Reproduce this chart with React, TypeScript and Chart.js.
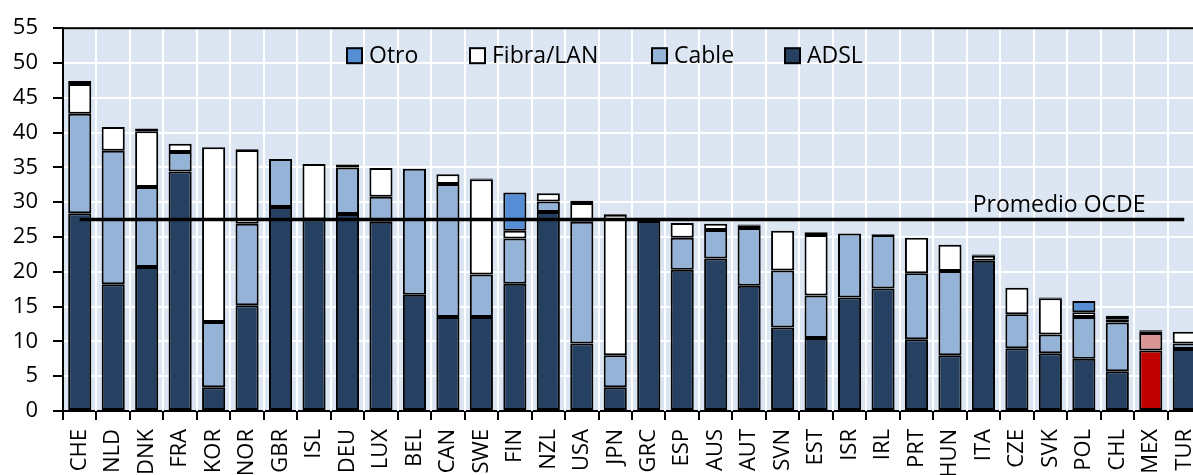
import React, { useEffect, useRef } from 'react';
import { Chart, registerables } from 'chart.js';

Chart.register(...registerables);

const countries = ['CHE', 'NLD', 'DNK', 'FRA', 'KOR', 'NOR', 'GBR', 'ISL', 'DEU', 'LUX', 'BEL', 'CAN', 'SWE', 'FIN', 'NZL', 'USA', 'JPN', 'GRC', 'ESP', 'AUS', 'AUT', 'SVN', 'EST', 'ISR', 'IRL', 'PRT', 'HUN', 'ITA', 'CZE', 'SVK', 'POL', 'CHL', 'MEX', 'TUR'];
const adsl = [28.4, 18.2, 20.7, 34.4, 3.4, 15.2, 29.3, 27.5, 28.3, 27.2, 16.7, 13.5, 13.5, 18.3, 28.6, 9.7, 3.4, 27.3, 20.3, 21.9, 18.0, 12.0, 10.5, 16.3, 17.6, 10.3, 8.0, 21.6, 9.0, 8.3, 7.5, 5.7, 8.7, 8.9];
const cable = [14.3, 19.2, 11.5, 2.8, 9.4, 11.7, 6.9, 0, 6.7, 3.6, 18.1, 19.1, 6.1, 6.5, 1.5, 17.5, 4.6, 0, 4.6, 4.1, 8.3, 8.2, 6.1, 9.2, 7.7, 9.5, 12.1, 0, 4.9, 2.7, 6.0, 7.0, 2.5, 0.8];
const fibra = [4.3, 3.4, 8.0, 1.2, 25.1, 10.6, 0, 8.0, 0.4, 4.1, 0, 1.4, 13.7, 1.1, 1.2, 2.7, 20.2, 0, 2.1, 0.9, 0.3, 5.7, 8.7, 0, 0.1, 5.1, 3.8, 0.7, 3.8, 5.2, 0.7, 0.5, 0.2, 1.7];
const otro = [0.4, 0, 0.4, 0, 0, 0.1, 0, 0, 0, 0, 0, 0, 0.1, 5.5, 0, 0.3, 0.1, 0, 0, 0, 0.2, 0, 0.4, 0, 0, 0, 0, 0.2, 0, 0.1, 1.6, 0.5, 0.2, 0];
const oecdAverage = 27.5;
const averageLabel = 'Promedio OCDE';
const highlightCountry = 'MEX';
const yMin = 0;
const yMax = 55;
const yStep = 5;

const FONT = "'Open Sans', sans-serif";
const BASE = { ADSL: '#254061', Cable: '#95B3D7', 'Fibra/LAN': '#FFFFFF', Otro: '#558ED5' };
const HIGHLIGHT = { ADSL: '#C00000', Cable: '#D99694', 'Fibra/LAN': '#FFFFFF', Otro: '#E6B9B8' };

const colorsFor = (key: string) =>
  countries.map((c) => (c === highlightCountry ? (HIGHLIGHT as any)[key] : (BASE as any)[key]));

const legendItems = [
  { label: 'Otro', color: BASE.Otro, x: 347 },
  { label: 'Fibra/LAN', color: BASE['Fibra/LAN'], x: 470 },
  { label: 'Cable', color: BASE.Cable, x: 652 },
  { label: 'ADSL', color: BASE.ADSL, x: 785 },
];

const categoryBoundaries = (chart: any) => {
  const { left, right } = chart.chartArea;
  const n = countries.length;
  const step = (right - left) / n;
  const out: number[] = [];
  for (let i = 0; i <= n; i++) out.push(Math.round(left + i * step));
  return out;
};

const decorPlugin = {
  id: 'decor',
  beforeDraw(chart: any) {
    const { ctx, chartArea } = chart;
    ctx.save();
    ctx.fillStyle = '#DCE6F2';
    ctx.fillRect(chartArea.left, chartArea.top, chartArea.right - chartArea.left, chartArea.bottom - chartArea.top);
    ctx.restore();
  },
  beforeDatasetsDraw(chart: any) {
    const { ctx, chartArea } = chart;
    ctx.save();
    ctx.fillStyle = '#FFFFFF';
    for (const px of categoryBoundaries(chart)) {
      if (px <= chartArea.left + 1) continue;
      ctx.fillRect(px - 1, chartArea.top, 2, chartArea.bottom - chartArea.top);
    }
    ctx.restore();
  },
  afterDraw(chart: any) {
    const { ctx, chartArea, scales } = chart;
    ctx.save();
    ctx.fillStyle = '#000000';
    for (const px of categoryBoundaries(chart)) {
      ctx.fillRect(px - 1, chartArea.bottom, 2, 9);
    }
    ctx.fillRect(chartArea.left, chartArea.top - 1, chartArea.right - chartArea.left, 2);
    const boxTop = chartArea.top + 20;
    ctx.font = `23px ${FONT}`;
    ctx.textBaseline = 'middle';
    ctx.textAlign = 'left';
    for (const it of legendItems) {
      ctx.fillStyle = '#000000';
      ctx.fillRect(it.x - 1, boxTop - 1, 17, 17);
      ctx.fillStyle = it.color;
      ctx.fillRect(it.x + 1, boxTop + 1, 13, 13);
      ctx.fillStyle = '#000';
      ctx.fillText(it.label, it.x + 22, boxTop + 8);
    }
    const y = scales.y;
    const step = (chartArea.right - chartArea.left) / countries.length;
    const lx = chartArea.left + 27 * step + 6;
    const ly = y.getPixelForValue(oecdAverage) - 8;
    ctx.textBaseline = 'alphabetic';
    ctx.fillStyle = '#000';
    ctx.fillText(averageLabel, lx, ly);
    ctx.restore();
  },
};

export default function App() {
  const ref = useRef<HTMLCanvasElement | null>(null);
  useEffect(() => {
    document.body.style.margin = '0';
    if (!ref.current) return;
    const barCommon = {
      type: 'bar' as const,
      borderColor: '#000',
      borderWidth: 2,
      borderSkipped: false,
      stack: 'bars',
      order: 1,
      barPercentage: 0.69,
      categoryPercentage: 1.0,
    };
    const chart = new Chart(ref.current, {
      type: 'bar',
      data: {
        labels: countries,
        datasets: [
          { ...barCommon, label: 'ADSL', data: adsl, backgroundColor: colorsFor('ADSL') },
          { ...barCommon, label: 'Cable', data: cable, backgroundColor: colorsFor('Cable') },
          { ...barCommon, label: 'Fibra/LAN', data: fibra, backgroundColor: colorsFor('Fibra/LAN') },
          { ...barCommon, label: 'Otro', data: otro, backgroundColor: colorsFor('Otro') },
          {
            type: 'line' as const,
            label: averageLabel,
            data: countries.map(() => oecdAverage),
            borderColor: '#000',
            borderWidth: 3.5,
            pointRadius: 0,
            stack: 'avg',
            order: 0,
            fill: false,
          } as any,
        ],
      },
      options: {
        responsive: false,
        animation: false,
        devicePixelRatio: 1,
        layout: { padding: { top: 22, left: 0, right: 0, bottom: 0 } },
        plugins: { legend: { display: false }, tooltip: { enabled: false } },
        scales: {
          x: {
            stacked: true,
            afterFit: (s: any) => {
              s.height = 64;
              s.paddingLeft = 0;
              s.paddingRight = 0;
            },
            grid: { color: 'rgba(0,0,0,0)', tickColor: 'rgba(0,0,0,0)', lineWidth: 2, offset: true, drawTicks: true, tickLength: 9 },
            border: { color: '#000', width: 2 },
            ticks: {
              autoSkip: false,
              minRotation: 90,
              maxRotation: 90,
              padding: 9,
              color: '#000',
              font: { family: FONT, size: 22 },
            },
          },
          y: {
            stacked: true,
            min: yMin,
            max: yMax,
            afterFit: (s: any) => {
              s.width = 63;
            },
            grid: { color: '#FFFFFF', lineWidth: 2, tickColor: '#000', tickLength: 10, tickWidth: 2 },
            border: { color: '#000', width: 2 },
            ticks: { stepSize: yStep, padding: 15, color: '#000', font: { family: FONT, size: 22 } },
          },
        },
      },
      plugins: [decorPlugin],
    } as any);
    return () => chart.destroy();
  }, []);
  return (
    <div style={{ position: 'fixed', left: 0, top: 0, width: 1193, height: 475, overflow: 'hidden', background: '#fff' }}>
      <canvas ref={ref} width={1201} height={475} style={{ width: 1201, height: 475, display: 'block' }} />
    </div>
  );
}
